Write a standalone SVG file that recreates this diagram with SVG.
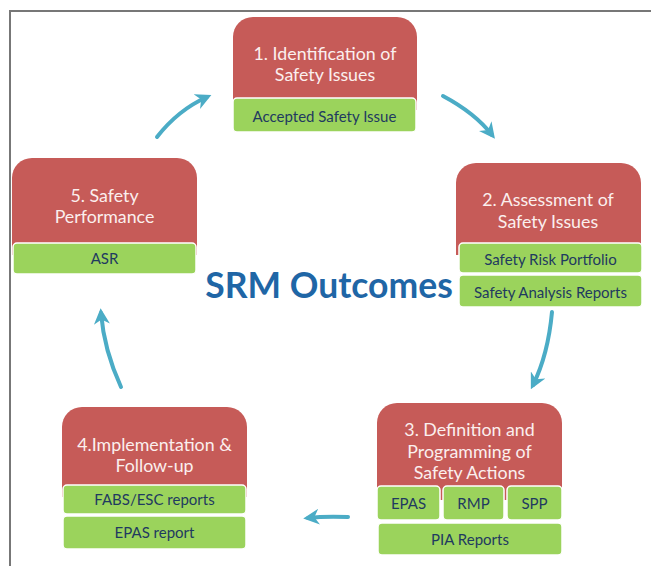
<svg xmlns="http://www.w3.org/2000/svg" width="651" height="566" viewBox="0 0 651 566">
  <defs>
    <style>
      .head { fill: #c65b58; }
      .tag { fill: #9bd35c; stroke: #ffffff; stroke-width: 1.5; }
      .ht { font-family: Lato, "Liberation Sans", sans-serif; font-size: 17.8px; fill: #fbefee; text-anchor: middle; }
      .tt { font-family: Lato, "Liberation Sans", sans-serif; font-size: 15px; fill: #1f3a60; text-anchor: middle; }
      .flow { fill: none; stroke: #4bacc6; stroke-width: 4; stroke-linecap: round; marker-end: url(#tip); }
      .title { font-family: Lato, "Liberation Sans", sans-serif; font-size: 35.5px; font-weight: bold; fill: #1f66a6; text-anchor: middle; }
    </style>
    <marker id="tip" viewBox="0 0 10 10" refX="7" refY="5" markerWidth="4" markerHeight="4" orient="auto" markerUnits="strokeWidth">
      <path d="M0,0 L10,5 L0,10 L3,5 z" fill="#4bacc6"/>
    </marker>
  </defs>

  <rect width="651" height="566" fill="#ffffff"/>
  <!-- frame -->
  <path d="M10,566 V11 H651" fill="none" stroke="#777777" stroke-width="2"/>

  <text class="title" x="329" y="298">SRM Outcomes</text>

  <!-- 1. Identification -->
  <g id="node1">
    <path class="head" d="M233,110 V37 A20,20 0 0 1 253,17 H397 A20,20 0 0 1 417,37 V110 Z"/>
    <text class="ht" x="325" y="60">1. Identification of</text>
    <text class="ht" x="325" y="81">Safety Issues</text>
    <rect class="tag" x="233" y="98" width="183" height="34" rx="4"/>
    <text class="tt" x="324.5" y="121.5">Accepted Safety Issue</text>
  </g>

  <!-- 2. Assessment -->
  <g id="node2">
    <path class="head" d="M456,255 V183 A20,20 0 0 1 476,163 H621 A20,20 0 0 1 641,183 V255 Z"/>
    <text class="ht" x="548" y="206">2. Assessment of</text>
    <text class="ht" x="548" y="228">Safety Issues</text>
    <rect class="tag" x="459" y="243" width="183" height="30" rx="4"/>
    <text class="tt" x="550.5" y="264.5">Safety Risk Portfolio</text>
    <rect class="tag" x="459" y="275" width="183" height="32" rx="4"/>
    <text class="tt" x="550.5" y="297.5">Safety Analysis Reports</text>
  </g>

  <!-- 3. Definition and Programming -->
  <g id="node3">
    <path class="head" d="M377,500 V423 A20,20 0 0 1 397,403 H542 A20,20 0 0 1 562,423 V500 Z"/>
    <text class="ht" x="469.5" y="436">3. Definition and</text>
    <text class="ht" x="469.5" y="458">Programming of</text>
    <text class="ht" x="469.5" y="479">Safety Actions</text>
    <rect class="tag" x="377" y="486" width="63" height="34" rx="4"/>
    <text class="tt" x="408.5" y="509">EPAS</text>
    <rect class="tag" x="443" y="486" width="61" height="34" rx="4"/>
    <text class="tt" x="473.5" y="509">RMP</text>
    <rect class="tag" x="507" y="486" width="55" height="34" rx="4"/>
    <text class="tt" x="534.5" y="509">SPP</text>
    <rect class="tag" x="378" y="523" width="184" height="32" rx="4"/>
    <text class="tt" x="470" y="545">PIA Reports</text>
  </g>

  <!-- 4. Implementation -->
  <g id="node4">
    <path class="head" d="M62,497 V427 A20,20 0 0 1 82,407 H227 A20,20 0 0 1 247,427 V497 Z"/>
    <text class="ht" x="154.5" y="451">4.Implementation &amp;</text>
    <text class="ht" x="154.5" y="472">Follow-up</text>
    <rect class="tag" x="63" y="485" width="183" height="29" rx="4"/>
    <text class="tt" x="154.5" y="505">FABS/ESC reports</text>
    <rect class="tag" x="63" y="516" width="183" height="33" rx="4"/>
    <text class="tt" x="154.5" y="538">EPAS report</text>
  </g>

  <!-- 5. Safety Performance -->
  <g id="node5">
    <path class="head" d="M12,255 V178 A20,20 0 0 1 32,158 H177 A20,20 0 0 1 197,178 V255 Z"/>
    <text class="ht" x="104.5" y="202">5. Safety</text>
    <text class="ht" x="104.5" y="223">Performance</text>
    <rect class="tag" x="13" y="243" width="183" height="31" rx="4"/>
    <text class="tt" x="104.5" y="264">ASR</text>
  </g>

  <!-- cycle connectors -->
  <g id="connectors">
    <path class="flow" d="M443,96 Q475,113 492,135"/>
    <path class="flow" d="M552,312 Q548,355 533,385"/>
    <path class="flow" d="M348,517 Q325,516 308,518"/>
    <path class="flow" d="M121,387 Q104,350 101,313"/>
    <path class="flow" d="M157,137 Q178,110 207,97"/>
  </g>
</svg>
